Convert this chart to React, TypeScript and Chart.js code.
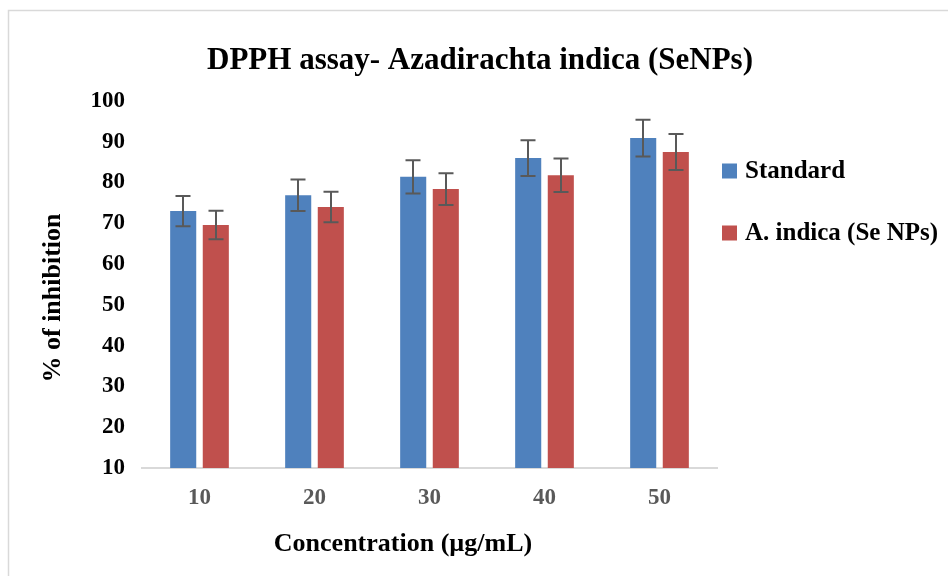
import React, { useEffect, useRef } from "react";
import { Chart, registerables } from "chart.js";

Chart.register(...registerables);

const categories = ["10", "20", "30", "40", "50"];
const standardValues = [73.0, 76.9, 81.4, 86.0, 90.9];
const standardErrors = [3.7, 3.85, 4.1, 4.4, 4.5];
const indicaValues = [69.6, 74.0, 78.4, 81.8, 87.5];
const indicaErrors = [3.5, 3.75, 3.9, 4.1, 4.4];
const seriesNames = ["Standard", "A. indica (Se NPs)"];
const chartTitle = "DPPH assay- Azadirachta indica (SeNPs)";
const xTitle = "Concentration (µg/mL)";
const yTitle = "% of inhibition";

const FONT = "'Liberation Serif', 'Times New Roman', serif";
const BLUE = "#4F81BD";
const RED = "#C0504D";

const errorBarPlugin = {
  id: "errorBars",
  afterDatasetsDraw(chart: any) {
    const ctx = chart.ctx;
    const yScale = chart.scales.y;
    ctx.save();
    ctx.strokeStyle = "#595959";
    ctx.lineWidth = 2;
    chart.data.datasets.forEach((ds: any, i: number) => {
      const meta = chart.getDatasetMeta(i);
      meta.data.forEach((bar: any, j: number) => {
        const v = ds.data[j];
        const e = ds.errors[j];
        const x = Math.round(bar.x);
        const yT = yScale.getPixelForValue(v + e);
        const yB = yScale.getPixelForValue(v - e);
        ctx.beginPath();
        ctx.moveTo(x, yT);
        ctx.lineTo(x, yB);
        ctx.moveTo(x - 7.5, yT);
        ctx.lineTo(x + 7.5, yT);
        ctx.moveTo(x - 7.5, yB);
        ctx.lineTo(x + 7.5, yB);
        ctx.stroke();
      });
    });
    ctx.restore();
  },
};

const decorPlugin = {
  id: "decor",
  beforeDraw(chart: any) {
    const ctx = chart.ctx;
    ctx.save();
    ctx.fillStyle = "#ffffff";
    ctx.fillRect(0, 0, chart.width, chart.height);
    ctx.strokeStyle = "#d9d9d9";
    ctx.lineWidth = 1.5;
    ctx.beginPath();
    ctx.moveTo(8.5, chart.height);
    ctx.lineTo(8.5, 10.5);
    ctx.lineTo(chart.width, 10.5);
    ctx.stroke();
    ctx.restore();
  },
  afterDraw(chart: any) {
    const ctx = chart.ctx;
    ctx.save();
    ctx.fillStyle = "#000000";
    ctx.textBaseline = "middle";
    ctx.textAlign = "center";
    ctx.font = `bold 31px ${FONT}`;
    ctx.fillText(chartTitle, 480, 61);
    ctx.font = `bold 26px ${FONT}`;
    ctx.fillText(xTitle, 403, 544);
    ctx.save();
    ctx.translate(53, 298);
    ctx.rotate(-Math.PI / 2);
    ctx.fillText(yTitle, 0, 0);
    ctx.restore();
    // legend
    ctx.textAlign = "left";
    ctx.font = `bold 25px ${FONT}`;
    const legendY = [171, 233];
    chart.data.datasets.forEach((ds: any, i: number) => {
      ctx.fillStyle = ds.backgroundColor;
      ctx.fillRect(722, legendY[i] - 7.5, 15, 15);
      ctx.fillStyle = "#000000";
      ctx.fillText(ds.label, 745, legendY[i] + 1);
    });
    ctx.restore();
  },
};

export default function App() {
  const ref = useRef<HTMLCanvasElement>(null);
  useEffect(() => {
    if (!ref.current) return;
    const chart = new Chart(ref.current, {
      type: "bar",
      data: {
        labels: categories,
        datasets: [
          {
            label: seriesNames[0],
            data: standardValues,
            errors: standardErrors,
            backgroundColor: BLUE,
            categoryPercentage: 0.567,
            barPercentage: 0.8,
          } as any,
          {
            label: seriesNames[1],
            data: indicaValues,
            errors: indicaErrors,
            backgroundColor: RED,
            categoryPercentage: 0.567,
            barPercentage: 0.8,
          } as any,
        ],
      },
      options: {
        animation: false,
        responsive: true,
        maintainAspectRatio: false,
        layout: { padding: { left: 0, right: 231, top: 101, bottom: 0 } },
        plugins: {
          legend: { display: false },
          title: { display: false },
          tooltip: { enabled: false },
        },
        scales: {
          x: {
            grid: { display: false, drawTicks: false, tickLength: 0 },
            border: { display: true, color: "#d9d9d9", width: 2 },
            ticks: {
              color: "#595959",
              padding: 16,
              font: { family: FONT, size: 23, weight: "bold" },
            },
            afterFit(scale: any) {
              scale.height = 108;
            },
          },
          y: {
            min: 10,
            max: 100,
            grid: { display: false, drawTicks: false, tickLength: 0 },
            border: { display: false },
            ticks: {
              stepSize: 10,
              color: "#000000",
              padding: 17,
              font: { family: FONT, size: 23, weight: "bold" },
            },
            afterFit(scale: any) {
              scale.width = 142;
            },
          },
        },
      },
      plugins: [decorPlugin, errorBarPlugin],
    });
    return () => chart.destroy();
  }, []);
  return (
    <div style={{ position: "fixed", left: 0, top: 0, width: 948, height: 576, background: "#fff" }}>
      <canvas ref={ref} />
    </div>
  );
}
